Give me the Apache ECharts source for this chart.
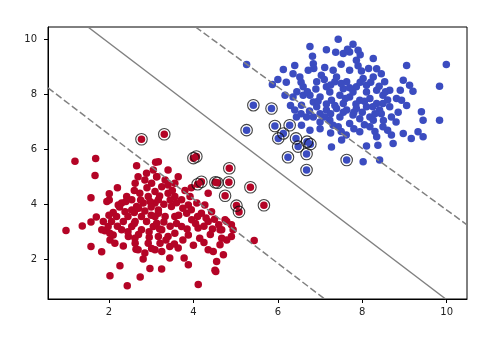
<!DOCTYPE html>
<html>
<head>
<meta charset="utf-8">
<script src="https://cdn.jsdelivr.net/npm/echarts@6/dist/echarts.min.js"></script>
<style>html,body{margin:0;padding:0;background:#fff}#c{width:498px;height:356px}</style>
</head>
<body>
<div id="c"></div>
<script>
const xTicks = [2, 4, 6, 8, 10];
const yTicks = [2, 4, 6, 8, 10];
const xRange = [0.556, 10.48];
const yRange = [0.545, 10.46];

const redPoints = [
  [1.195,5.57],[1.685,5.67],[1.67,5.05],[2.655,5.40],[3.105,5.53],[1.574,4.24],[2.007,4.385],[2.007,4.156],
  [0.982,3.04],[1.368,3.21],[1.574,3.356],[1.70,3.538],[1.866,3.37],[2.10,3.695],[1.905,3.03],[1.574,2.46],
  [1.827,2.265],[2.024,2.70],[2.34,2.48],[2.26,1.756],[2.024,1.393],[2.433,1.03],[2.74,1.345],[2.97,1.66],
  [2.64,2.36],[2.81,2.0],[3.01,2.385],[2.954,2.80],[2.615,2.76],
  [2.22,3.975],[2.42,4.28],[2.655,3.915],[2.77,3.55],[2.89,3.37],[2.54,3.19],[2.30,3.07],[2.10,2.88],
  [2.34,3.37],[2.62,4.76],[2.85,4.885],[3.01,4.76],[2.73,4.40],[2.93,4.28],[3.09,4.04],[3.17,3.67],
  [3.05,3.19],[3.17,2.82],[2.69,2.34],[2.85,2.22],[3.09,2.34],[2.54,3.79],[2.18,3.55],[2.38,3.73],
  [2.77,3.07],[2.62,2.58],[2.93,2.58],[1.98,3.19],[1.83,3.07],[2.06,3.37],[2.69,5.0],[2.89,5.13],
  [3.13,5.0],[2.54,4.16],[2.30,4.04],[2.81,4.04],[3.09,3.55],[2.14,2.58],[3.09,4.46],[2.62,3.37],
  [2.46,2.82],[2.02,2.945],[2.97,4.10],
  [5.44,2.68],[4.115,1.07],[3.247,1.635],[3.88,1.79],[4.51,1.59],[4.55,1.91],[4.71,2.16],[4.35,2.34],
  [4.47,2.28],[3.78,2.04],[3.44,2.04],[3.64,2.40],[3.44,2.46],[3.25,2.28],[3.21,2.58],[3.40,2.82],
  [3.25,3.07],[4.15,2.76],[4.67,2.76],[4.90,2.82],[4.94,3.07],[4.79,3.37],[4.90,3.25],[4.63,3.07],
  [4.35,3.37],[4.11,3.13],[3.96,3.43],[3.84,3.67],[4.19,3.67],[4.43,3.73],[4.27,3.975],[4.08,4.04],
  [3.88,3.975],[3.72,4.16],[3.56,4.28],[3.40,4.40],[3.25,4.64],[3.56,4.76],[3.64,5.0],[3.33,4.885],
  [3.17,5.55],[3.13,5.0],[3.92,4.28],[4.35,4.40],[3.33,3.55],[3.56,3.55],[3.72,3.19],[3.17,3.79],
  [3.48,3.915],[3.17,4.16],[3.13,3.31],[3.88,2.88],[3.56,2.945],[4.63,2.52],[4.75,3.43],[4.79,2.70],
  [4.67,3.07],[4.53,1.55],
  [2.45,3.55],[2.6,3.7],[2.7,3.85],[2.85,3.75],[3.0,3.9],[3.3,4.0],[3.45,4.15],[3.6,4.05],
  [3.75,3.85],[3.95,3.8],[4.1,3.55],[4.25,3.2],[4.45,3.1],[4.5,3.45],[4.6,3.25],[4.05,3.3],
  [3.85,3.1],[3.6,3.3],[3.45,3.2],[3.3,3.35],[3.0,3.6],[2.95,3.0],[2.7,2.9],[2.45,3.0],
  [2.2,3.2],[2.4,4.1],[2.6,4.5],[2.9,4.6],[3.2,4.3],[3.5,4.5],[3.8,4.5],[3.95,4.6],
  [3.4,4.7],[2.75,4.15],[3.35,2.7],[3.55,2.55],[3.75,2.7],[4.0,2.5],[4.25,2.6],[4.4,2.9],
  [2.25,3.9],[2.0,3.6],[1.95,4.1],[2.2,4.6],[3.05,5.25],[3.4,5.25],[2.6,3.3],[3.2,3.1],
  [3.65,3.6],[4.3,3.5],
  [2.77,6.37],[3.31,6.55],[4.0,5.68],[4.07,5.74],[4.85,5.31],[4.19,4.82],[4.10,4.73],[4.52,4.80],
  [4.57,4.78],[4.84,4.80],[4.75,4.31],[5.02,3.95],[5.08,3.72],[5.35,4.62],[5.67,3.96]
];

const bluePoints = [
  [7.43,10.01],[6.76,9.75],[7.78,9.83],[7.15,9.63],[7.37,9.54],[7.55,9.49],[7.70,9.55],[7.90,9.61],
  [6.82,9.39],[7.86,9.25],[8.26,9.31],[9.05,9.06],[9.99,9.09],[6.13,8.91],[6.40,9.06],[6.84,9.12],
  [7.11,8.98],[7.31,8.88],[7.70,8.88],[7.98,8.86],[8.34,8.94],[8.45,8.76],[5.87,8.36],[6.36,8.76],
  [6.52,8.64],[6.72,8.88],[8.97,8.52],[9.12,8.34],[9.20,8.12],[9.83,8.30],[8.53,8.46],[8.65,8.15],
  [8.81,7.85],[8.93,7.79],[9.40,7.37],[9.44,7.06],[9.83,7.06],[9.32,6.64],[9.16,6.40],[9.44,6.46],
  [8.97,6.58],[8.69,6.52],[8.73,6.21],[8.69,7.18],[8.34,6.46],[8.10,6.12],[8.37,6.15],[8.41,5.61],
  [8.02,5.55],[7.27,6.09],[7.51,6.34],[7.62,6.52],[7.94,6.64],[8.18,6.82],[8.49,6.82],[6.17,7.97],
  [6.36,7.91],[6.40,7.43],[6.56,7.61],[6.68,7.18],[6.56,6.88],[6.76,6.70],[7.0,7.0],[7.23,7.06],
  [7.43,6.82],[7.70,6.94],[7.94,7.12],[8.18,7.18],[8.41,7.43],[6.60,8.28],[6.92,8.46],[7.15,8.28],
  [7.35,8.46],[7.63,8.46],[7.86,8.28],[8.10,8.34],[8.34,8.15],[8.49,7.97],[6.76,7.97],[7.0,7.91],
  [7.27,7.79],[7.47,7.97],[7.70,7.91],[7.94,7.79],[8.18,7.85],[8.34,7.67],[6.92,7.55],[7.15,7.43],
  [7.39,7.49],[7.63,7.43],[7.86,7.49],[8.10,7.55],[6.84,7.18],[7.11,7.18],[7.47,7.18],[7.78,7.25],
  [8.49,7.67],[8.65,7.55],[7.55,8.21],[7.78,8.09],[7.23,8.09],[6.84,7.73],[8.10,8.09],[8.26,8.64],
  [8.02,8.58],[7.39,8.64],[7.03,8.70],[6.60,7.97],[8.26,7.06],[7.55,7.67],[7.31,6.88],[6.44,7.18],
  [6.7,8.1],[6.9,8.2],[7.1,8.55],[7.25,8.35],[7.5,8.4],[7.7,8.25],[7.95,8.45],[8.2,8.45],
  [8.4,8.3],[8.55,8.1],[6.95,7.75],[7.15,7.65],[7.35,7.6],[7.6,7.85],[7.85,7.65],[8.05,7.75],
  [8.25,7.55],[8.45,7.3],[8.6,7.8],[6.75,7.4],[7.0,7.3],[7.25,7.3],[7.55,7.35],[7.8,7.35],
  [8.0,7.35],[8.3,7.3],[8.5,7.05],[7.0,6.75],[7.25,6.6],[7.5,6.65],[7.8,6.75],[8.05,6.9],
  [8.3,6.65],[8.6,6.7],[6.55,8.45],[6.85,8.95],[7.5,9.1],[7.9,9.05],[8.15,8.95],[6.45,8.1],
  [6.3,7.6],[6.55,7.3],[7.95,9.45],[7.65,9.65],[8.8,7.0],[8.85,7.35],[9.05,7.6],[8.9,8.15],
  [6.2,8.45],[6.0,8.55],[5.26,9.09],
  [5.42,7.61],[5.85,7.49],[5.26,6.70],[5.93,6.85],[6.28,6.88],[6.13,6.58],[6.01,6.40],[6.43,6.40],
  [6.48,6.10],[6.69,6.28],[6.77,6.19],[6.68,5.83],[6.24,5.71],[6.68,5.25],[7.63,5.61]
];

const supportVectors = [
  [2.77,6.37],[3.31,6.55],[4.0,5.68],[4.07,5.74],[4.85,5.31],[4.19,4.82],[4.10,4.73],[4.52,4.80],
  [4.57,4.78],[4.84,4.80],[4.75,4.31],[5.02,3.95],[5.08,3.72],[5.35,4.62],[5.67,3.96],
  [5.42,7.61],[5.85,7.49],[5.26,6.70],[5.93,6.85],[6.28,6.88],[6.13,6.58],[6.01,6.40],[6.43,6.40],
  [6.48,6.10],[6.69,6.28],[6.77,6.19],[6.68,5.83],[6.24,5.71],[6.68,5.25],[7.63,5.61]
];

const boundaryLine = [[1.503,10.46],[9.976,0.545]];
const upperMargin = [[4.05,10.46],[10.48,3.25]];
const lowerMargin = [[0.556,8.24],[7.11,0.545]];

const chart = echarts.init(document.getElementById('c'), null, {renderer:'canvas'});
const axisCommon = {
  type:'value',
  axisLine:{show:true, onZero:false, lineStyle:{color:'#000', width:1}},
  splitLine:{show:false},
  axisLabel:{color:'#222', fontSize:10, fontFamily:'DejaVu Sans'}
};
chart.setOption({
  animation:false,
  backgroundColor:'#fff',
  grid:{left:48, top:27, width:419, height:272, show:true, borderColor:'#000', borderWidth:1, containLabel:false},
  xAxis:Object.assign({}, axisCommon, {
    min:xRange[0], max:xRange[1],
    axisTick:{show:true, length:4, lineStyle:{color:'#000'}, customValues:xTicks},
    axisLabel:Object.assign({}, axisCommon.axisLabel, {margin:8, customValues:xTicks})
  }),
  yAxis:Object.assign({}, axisCommon, {
    min:yRange[0], max:yRange[1],
    axisTick:{show:true, length:4, lineStyle:{color:'#000'}, customValues:yTicks},
    axisLabel:Object.assign({}, axisCommon.axisLabel, {margin:11, customValues:yTicks})
  }),
  series:[
    {type:'scatter', data:redPoints, symbolSize:7.5, itemStyle:{color:'#b40426', opacity:1}, z:2},
    {type:'scatter', data:bluePoints, symbolSize:7.5, itemStyle:{color:'#3b4cc0', opacity:1}, z:2},
    {type:'line', data:boundaryLine, showSymbol:false, clip:true, lineStyle:{color:'#808080', width:1.5, type:'solid'}, z:3},
    {type:'line', data:upperMargin, showSymbol:false, clip:true, lineStyle:{color:'#808080', width:1.5, type:[7,3]}, z:3},
    {type:'line', data:lowerMargin, showSymbol:false, clip:true, lineStyle:{color:'#808080', width:1.5, type:[7,3]}, z:3},
    {type:'scatter', data:supportVectors, symbolSize:11.5, itemStyle:{color:'rgba(0,0,0,0)', borderColor:'#111', borderWidth:1.1}, z:4}
  ]
});
</script>
</body>
</html>
